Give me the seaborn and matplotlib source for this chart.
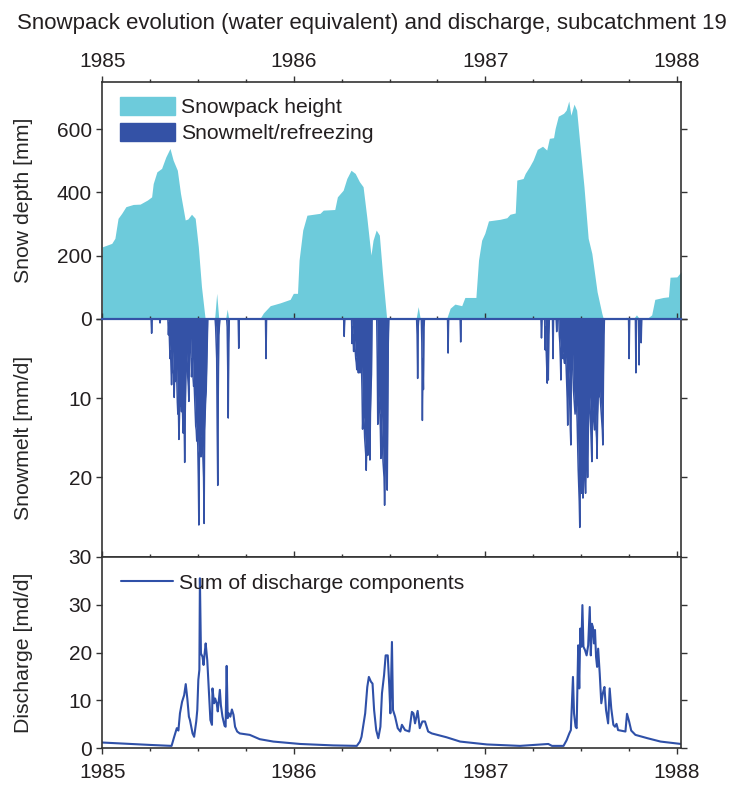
import numpy as np
import pandas as pd
import matplotlib
matplotlib.use("Agg")
import matplotlib.pyplot as plt
import matplotlib.dates as mdates
from matplotlib.patches import Patch
import seaborn as sns

# -----------------------------
# Data (days counted from 1985-01-01)
# -----------------------------
snow_day = [0, 18, 24, 30, 37, 45, 59, 72, 86, 94, 97, 104, 113, 121, 129, 135, 143, 149,
            158, 163, 170, 177, 183, 189, 196, 214, 218, 222, 235, 238, 241, 300, 307, 320,
            339, 358, 364, 372, 375, 382, 390, 415, 421, 443, 448, 459, 466, 474, 482, 490,
            497, 504, 512, 516, 522, 528, 534, 542, 598, 602, 606, 656, 663, 672, 685, 691,
            712, 717, 723, 729, 736, 758, 771, 777, 787, 790, 802, 806, 814, 821, 829, 839,
            847, 852, 860, 863, 869, 879, 884, 889, 893, 899, 904, 910, 918, 926, 933, 943,
            952, 955, 995, 999, 1003, 1012, 1018, 1024, 1037, 1047, 1053, 1069, 1079, 1082,
            1095, 1103]
snow_mm = [228, 239, 255, 318, 334, 355, 362, 363, 376, 386, 428, 465, 476, 512, 539, 502, 470, 397,
           313, 316, 331, 318, 228, 102, 0, 0, 81, 0, 0, 31, 0, 0, 19, 42,
           51, 62, 81, 81, 186, 281, 328, 334, 344, 346, 386, 407, 444, 470, 460, 434,
           418, 323, 202, 249, 281, 265, 144, 0, 0, 39, 0, 0, 34, 47, 42, 68,
           68, 186, 249, 271, 310, 315, 320, 331, 335, 439, 444, 460, 481, 502, 536, 546,
           534, 571, 573, 602, 641, 650, 660, 689, 644, 679, 660, 555, 418, 255, 207, 86,
           18, 0, 0, 6, 0, 0, 13, 0, 0, 13, 62, 68, 70, 132,
           133, 149]

# snowmelt: consecutive daily values starting at a given day, plus isolated spikes
melt_block_start = [126, 216, 238, 476, 524, 600, 609, 844, 871]
melt_blocks = [
    [2.0, 0.5, 3.0, 5.0, 4.0, 6.0, 8.3, 5.5, 4.0, 6.5, 7.0, 9.9, 6.5, 7.9, 6.0, 5.0, 8.0, 10.5,
     12.0, 11.0, 15.2, 12.5, 9.0, 11.0, 10.0, 11.7, 9.5, 12.0, 14.4, 11.5, 13.0, 18.1, 12.0, 8.0,
     5.0, 3.5, 6.0, 7.5, 8.5, 10.4, 4.0, 1.5, 2.2, 4.5, 7.3, 6.0, 5.0, 7.5, 8.5, 8.1, 10.0, 12.0,
     13.5, 14.0, 15.4, 14.5, 16.0, 20.0, 26.0, 17.0, 16.5, 14.0, 17.4, 15.0, 15.0, 16.0, 18.0,
     20.0, 25.8, 14.0, 12.0, 10.0, 9.0, 6.0, 3.0],
    [1.0, 3.0, 5.0, 14.0, 21.0, 9.0, 2.0, 1.0],
    [1.0, 6.0, 12.5, 3.0],
    [3.1, 1.0, 2.5, 4.1, 2.0, 3.0, 4.0, 5.0, 5.5, 6.4, 5.0, 6.0, 6.8, 5.5, 6.0, 6.8, 5.0, 4.0,
     6.0, 9.0, 13.9, 12.0, 12.5, 13.0, 15.0, 16.0, 17.0, 19.1, 16.0, 15.0, 17.2, 14.0, 13.0,
     15.0, 17.8, 12.0, 9.0, 7.0],
    [5.0, 13.3, 10.0, 9.0, 11.0, 12.0, 14.0, 17.6, 12.0, 14.0, 16.0, 18.0, 19.0, 20.0, 23.5,
     19.0, 18.0, 17.0, 19.0, 21.6, 12.0, 3.0],
    [2.0, 7.5, 1.0],
    [3.0, 12.8, 5.0, 8.9, 1.0],
    [3.9, 1.0, 4.0, 6.0, 8.1, 5.0, 7.7, 2.0],
    [2.0, 3.0, 5.0, 7.7, 4.0, 3.0, 4.0, 5.0, 4.5, 5.0, 5.6, 4.0, 5.0, 6.0, 8.0, 10.0, 13.4, 7.0,
     6.0, 8.0, 11.0, 14.0, 15.9, 5.0, 1.0, 4.0, 7.0, 9.0, 10.0, 11.0, 12.0, 11.0, 10.0, 11.1,
     13.0, 16.0, 19.0, 21.0, 23.0, 26.3, 20.0, 19.0, 21.0, 22.0, 20.0, 22.6, 21.0, 18.0, 19.0,
     20.0, 22.0, 18.0, 16.0, 17.0, 20.0, 15.0, 12.0, 11.0, 9.8, 12.0, 14.0, 16.0, 18.0, 13.0,
     11.0, 12.0, 13.0, 14.0, 11.0, 12.0, 14.0, 15.0, 17.6, 12.0, 10.0, 9.0, 8.0, 9.8, 10.0,
     11.0, 12.0, 13.0, 14.0, 15.9, 8.0, 2.0],
]
melt_spike_day = [94, 110, 260, 312, 461, 659, 683, 837, 859, 866, 1004, 1017, 1023, 1027]
melt_spike_mm = [1.8, 0.5, 3.7, 5.0, 2.2, 4.3, 2.9, 2.4, 5.0, 1.6, 5.0, 6.8, 5.8, 3.0]

q_day = [0, 91, 132, 137, 142, 145, 148, 152, 156, 159, 162, 165, 167, 172, 175, 179, 181, 183,
         185, 186, 188, 191, 193, 195, 197, 200, 203, 206, 209, 210, 213, 215, 218, 220, 224, 226,
         229, 233, 235, 237, 239, 241, 244, 247, 250, 253, 257, 262, 281, 300, 326, 377, 440, 485,
         491, 494, 501, 505, 508, 512, 515, 518, 522, 526, 530, 533, 537, 540, 544, 547, 549, 552,
         554, 558, 563, 568, 571, 577, 585, 590, 593, 596, 601, 605, 610, 615, 621, 628, 656, 682,
         733, 796, 850, 857, 879, 885, 890, 893, 897, 899, 902, 904, 907, 909, 911, 913, 915, 917,
         920, 923, 926, 929, 931, 933, 935, 937, 939, 941, 943, 945, 948, 951, 954, 957, 960, 964,
         967, 970, 974, 977, 980, 983, 997, 1000, 1004, 1008, 1016, 1039, 1064, 1103]
q_md = [1.2, 0.7, 0.5, 2.4, 4.2, 3.7, 7.3, 9.7, 11.1, 13.4, 10.4, 6.6, 5.9, 3.1, 2.4, 5.6, 8.0, 14.3,
        16.4, 35.5, 19.8, 19.1, 17.4, 19.8, 21.9, 18.4, 12.2, 5.9, 4.9, 12.5, 9.4, 10.4, 9.4, 7.7, 12.2, 9.0,
        6.6, 4.7, 4.5, 17.2, 6.3, 7.3, 6.6, 8.1, 7.0, 4.5, 3.5, 3.1, 2.8, 1.9, 1.4, 0.9, 0.6, 0.5,
        1.4, 2.4, 7.3, 12.8, 14.9, 13.9, 13.5, 8.0, 3.8, 2.1, 4.5, 11.5, 15.3, 19.4, 19.4, 12.8, 7.3, 22.2,
        8.0, 6.6, 4.2, 3.5, 4.9, 3.8, 3.5, 7.6, 7.3, 5.2, 7.8, 4.2, 5.6, 5.6, 3.5, 3.1, 2.3, 1.4,
        0.8, 0.5, 0.9, 0.5, 0.5, 1.7, 3.1, 3.8, 14.9, 7.3, 4.5, 4.2, 21.5, 12.5, 25.0, 21.2, 29.9, 21.2,
        20.5, 19.4, 21.5, 29.5, 19.4, 26.0, 25.3, 21.9, 24.7, 19.1, 17.0, 20.8, 15.6, 9.4, 11.5, 12.8, 8.0, 5.2,
        12.5, 8.3, 4.9, 4.5, 5.1, 3.8, 3.5, 7.2, 5.6, 3.7, 2.8, 2.1, 1.4, 0.9]

CYAN = "#6dcbdb"
BLUE = "#3452a6"
LINE = "#2f50a8"
GRAY = "#333333"
TEXT = "#231f20"

start = pd.Timestamp("1985-01-01")
end = start + pd.Timedelta(days=1103)


def to_date(days):
    return start + pd.to_timedelta(np.asarray(days), unit="D")


days = np.arange(0, 1104)
melt = np.zeros(len(days))
for s, vals in zip(melt_block_start, melt_blocks):
    melt[s:s + len(vals)] = vals
melt[melt_spike_day] = melt_spike_mm

# -----------------------------
# Plot
# -----------------------------
sns.set_style("ticks")
plt.rcParams["font.family"] = ["Liberation Sans", "DejaVu Sans"]
plt.rcParams["font.size"] = 15
plt.rcParams["text.color"] = TEXT
plt.rcParams["xtick.color"] = GRAY
plt.rcParams["ytick.color"] = GRAY
plt.rcParams["xtick.labelcolor"] = TEXT
plt.rcParams["ytick.labelcolor"] = TEXT

fig = plt.figure(figsize=(7.35, 7.87), dpi=100)
ax1 = fig.add_axes([0.1392, 0.5947, 0.7874, 0.3015])
ax2 = fig.add_axes([0.1392, 0.2926, 0.7874, 0.3021])
ax3 = fig.add_axes([0.1392, 0.0492, 0.7874, 0.2434])

# snowpack
ax1.fill_between(to_date(snow_day), 0, snow_mm, color=CYAN, lw=0)
ax1.set_ylim(0, 750)
ax1.set_yticks([0, 200, 400, 600])
ax1.legend(handles=[Patch(color=CYAN, label="Snowpack height"),
                    Patch(color=BLUE, label="Snowmelt/refreezing")],
           loc="upper left", bbox_to_anchor=(0.03, 0.935), frameon=False,
           borderpad=0, borderaxespad=0, handlelength=2.6, handleheight=0.95,
           handletextpad=0.3, labelspacing=0.25, fontsize=15.2)

# snowmelt
ax2.fill_between(to_date(days), 0, melt, color=BLUE, lw=0)
sns.lineplot(x=to_date(days), y=melt, ax=ax2, color=BLUE, lw=1.1,
             estimator=None, sort=False)
ax2.set_ylim(30, 0)
ax2.set_yticks([0, 10, 20, 30])
ax2.set_yticklabels(["", "10", "20", "30"])

# discharge
sns.lineplot(x=to_date(q_day), y=q_md, ax=ax3, color=LINE, lw=1.5,
             estimator=None, sort=False, label="Sum of discharge components")
ax3.set_ylim(0, 40)
ax3.set_yticks([0, 10, 20, 30])
ax3.legend(loc="upper left", bbox_to_anchor=(0.033, 0.912), frameon=False,
           borderpad=0, borderaxespad=0, handlelength=2.45, handletextpad=0.3,
           fontsize=15.2)

for ax, label in zip([ax1, ax2, ax3],
                     ["Snow depth [mm]", "Snowmelt [mm/d]", "Discharge [md/d]"]):
    ax.set_xlim(start, end)
    ax.xaxis.set_major_locator(mdates.YearLocator())
    ax.xaxis.set_minor_locator(mdates.MonthLocator())
    ax.xaxis.set_major_formatter(mdates.DateFormatter("%Y"))
    ax.tick_params(which="both", direction="out", width=1.0, labelsize=15)
    ax.tick_params(which="major", length=4.0, pad=4)
    ax.tick_params(which="minor", length=2.0)
    ax.tick_params(axis="y", left=True, right=True, labelleft=True, labelright=False, pad=3.5)
    ax.minorticks_on()
    ax.yaxis.set_minor_locator(matplotlib.ticker.NullLocator())
    ax.set_xlabel("")
    ax.set_ylabel(label, fontsize=15.3)
    ax.yaxis.set_label_coords(-0.12, 0.5)
    for sp in ax.spines.values():
        sp.set_color(GRAY)
        sp.set_linewidth(1.2)

ax1.tick_params(axis="x", which="both", top=True, bottom=False, labeltop=True, labelbottom=False)
ax2.tick_params(axis="x", which="both", top=True, bottom=False, labeltop=False, labelbottom=False)
ax3.tick_params(axis="x", which="both", top=True, bottom=True, labeltop=False, labelbottom=True)
ax3.tick_params(axis="x", which="major", pad=6.5)
ax1.spines["bottom"].set_visible(False)
ax2.spines["top"].set_color(BLUE)
ax2.spines["top"].set_linewidth(1.6)

fig.text(0.506, 0.970, "Snowpack evolution (water equivalent) and discharge, subcatchment 19",
         ha="center", va="center", fontsize=16)

fig.savefig("out.png", dpi=100)
